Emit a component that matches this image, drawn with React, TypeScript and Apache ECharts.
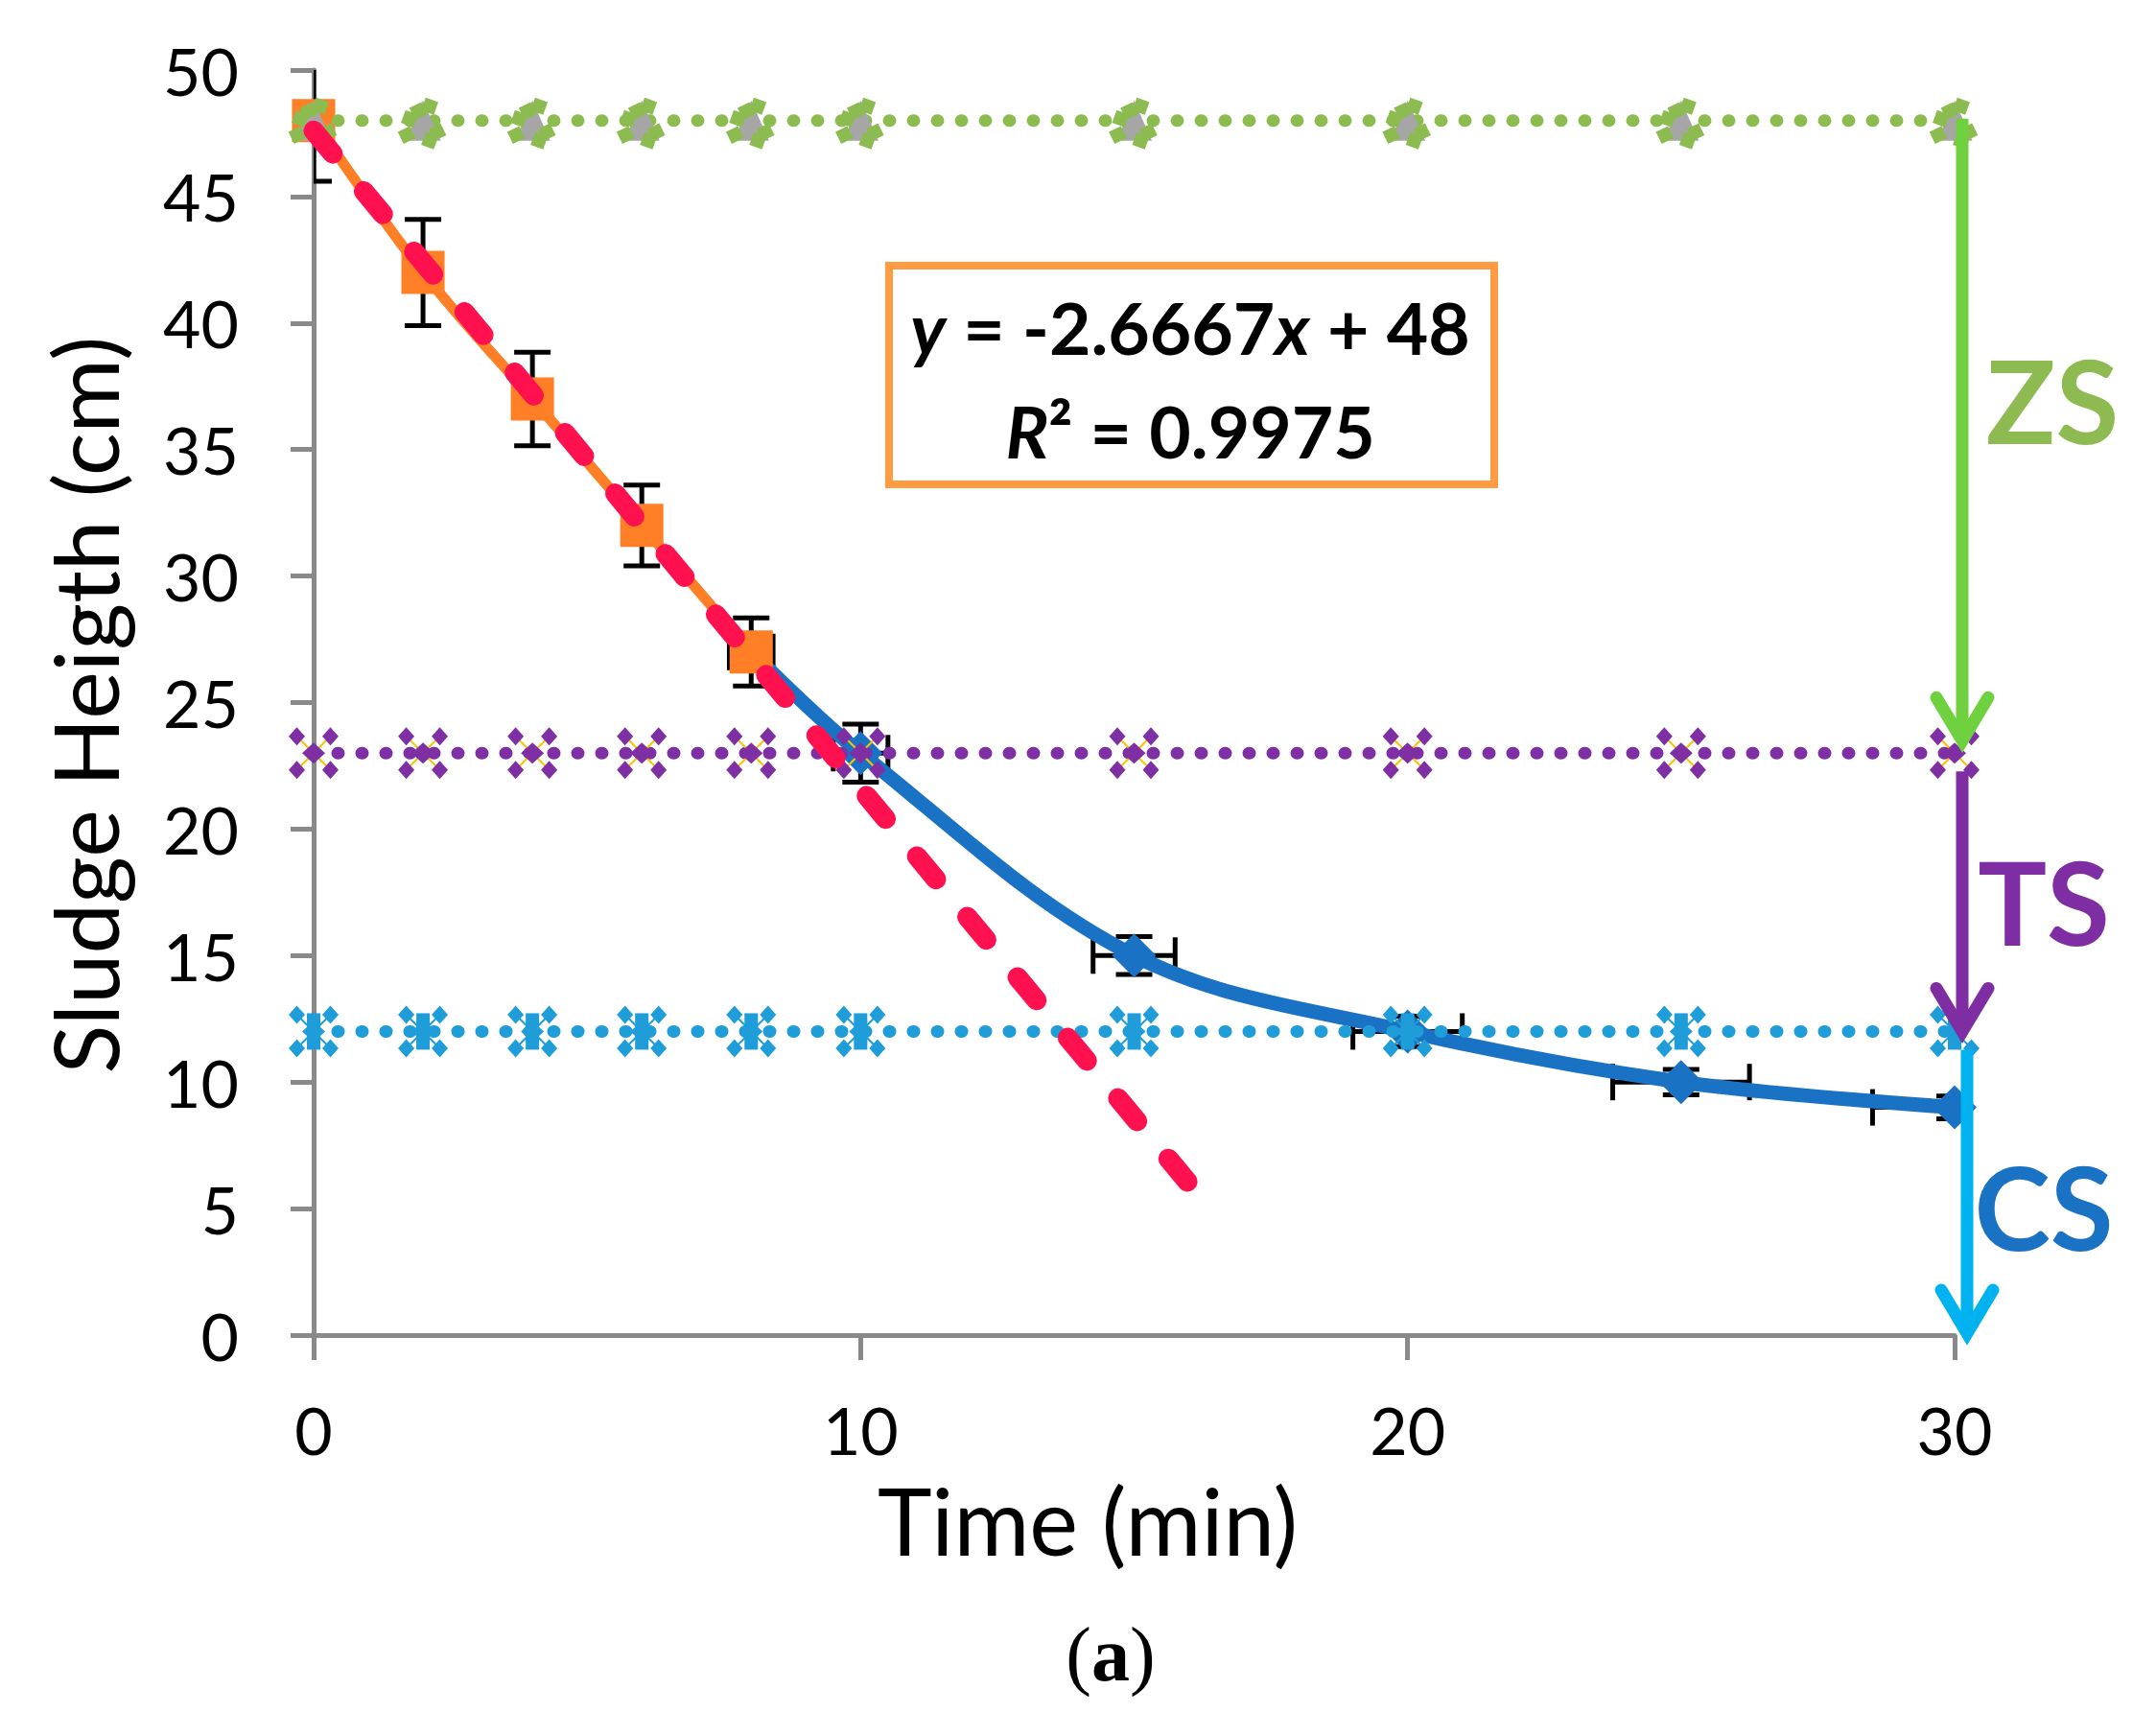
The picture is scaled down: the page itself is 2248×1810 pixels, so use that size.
import React, { useEffect, useRef } from 'react';
import * as echarts from 'echarts';

// ---------------- data ----------------
const timeOrange = [0, 2, 4, 6, 8];
const heightOrange = [48, 42, 37, 32, 27];
const xErrOrange = [0, 0.1, 0.2, 0.3, 0.4];
const yErrOrange = [2.4, 2.1, 1.85, 1.6, 1.35];

const timeBlue = [8, 10, 15, 20, 25, 30];
const heightBlue = [27, 23, 15, 12, 10, 9];
const xErrBlue = [0.4, 0.5, 0.75, 1.0, 1.25, 1.5];
const yErrBlue = [1.35, 1.15, 0.75, 0.6, 0.5, 0.45];

const timeZones = [0, 2, 4, 6, 8, 10, 15, 20, 25, 30];
const zsHeights = [48, 48, 48, 48, 48, 48, 48, 48, 48, 48];
const tsHeights = [23, 23, 23, 23, 23, 23, 23, 23, 23, 23];
const csHeights = [12, 12, 12, 12, 12, 12, 12, 12, 12, 12];

const trendTime = [0, 16];
const trendHeight = [47.6, 6.0];

const arrowTime = [30, 30, 30];
const arrowFrom = [48, 23, 12];
const arrowTo = [23, 12, 0];
const zoneNames = ['ZS', 'TS', 'CS'];

const xMin = 0, xMax = 30, xStep = 10;
const yMin = 0, yMax = 50, yStep = 5;

const equationLine = ['y', ' = -2.6667', 'x', ' + 48'];
const r2Line = ['R', '² = 0.9975'];
const xTitle = 'Time (min)';
const yTitle = 'Sludge Heigth (cm)';
const panelLabel = 'a';

// ---------------- styles ----------------
const FONT = 'Lato, "Open Sans", sans-serif';
const SERIF = '"Liberation Serif", "DejaVu Serif", serif';
const AXIS_GRAY = '#898989';
const ORANGE = '#FF7F27';
const BLUE = '#1A72C5';
const PURPLE = '#7E2FA3';
const CYAN = '#1E9DD9';
const GREEN_DOT = '#8CBC50';
const TRI_GRAY = '#A6A6A6';
const RED = '#FF1150';
const arrowColors = ['#6FD13F', '#7F2DA2', '#00B2EF'];
const zoneTextColors = ['#8DBB52', '#7F2DA2', '#1A72C5'];

function diamond(cx: number, cy: number, hw: number, hh: number, fill: string) {
  return {
    type: 'polygon',
    shape: { points: [[cx, cy - hh], [cx + hw, cy], [cx, cy + hh], [cx - hw, cy]] },
    style: { fill },
  };
}

function crossMarker(color: string, lineColor: string, withRect: boolean) {
  return (params: any, api: any) => {
    const c = api.coord([api.value(0), api.value(1)]);
    const cx = c[0], cy = c[1];
    const o = 17.5;
    const children: any[] = [
      { type: 'line', shape: { x1: cx - o, y1: cy - o, x2: cx + o, y2: cy + o }, style: { stroke: lineColor, lineWidth: 2 } },
      { type: 'line', shape: { x1: cx - o, y1: cy + o, x2: cx + o, y2: cy - o }, style: { stroke: lineColor, lineWidth: 2 } },
    ];
    if (withRect) {
      children.push({ type: 'rect', shape: { x: cx - 7, y: cy - 19, width: 14, height: 38 }, style: { fill: color } });
    }
    children.push(diamond(cx - o, cy - o, 8.5, 9.5, color));
    children.push(diamond(cx + o, cy - o, 8.5, 9.5, color));
    children.push(diamond(cx - o, cy + o, 8.5, 9.5, color));
    children.push(diamond(cx + o, cy + o, 8.5, 9.5, color));
    children.push(diamond(cx, cy, 12, 11, color));
    return { type: 'group', children };
  };
}

function greenMarker(params: any, api: any) {
  const c = api.coord([api.value(0), api.value(1)]);
  const cx = c[0], cy = c[1];
  const bits = [[-5, -10], [7, -15], [-17, 15], [7, 21], [15, 12], [-14, -2]];
  const children: any[] = [
    { type: 'polygon', shape: { points: [[cx, cy - 21], [cx + 18.5, cy + 21], [cx - 18.5, cy + 21]] }, style: { fill: TRI_GRAY } },
  ];
  bits.forEach((b, i) => {
    children.push({
      type: 'rect',
      x: cx + b[0],
      y: cy + b[1],
      rotation: i % 2 === 0 ? 0.45 : -0.35,
      shape: { x: -7, y: -7, width: 14, height: 14 },
      style: { fill: GREEN_DOT },
    });
  });
  return { type: 'group', children };
}

function errorBars(params: any, api: any) {
  const x = api.value(0), y = api.value(1), ex = api.value(2), ey = api.value(3);
  const c = api.coord([x, y]);
  const top = api.coord([x, y + ey])[1];
  const bot = api.coord([x, y - ey])[1];
  const left = api.coord([x - ex, y])[0];
  const right = api.coord([x + ex, y])[0];
  const cap = 19;
  const style = { stroke: '#000', lineWidth: 5 };
  const children: any[] = [
    { type: 'line', shape: { x1: c[0], y1: top, x2: c[0], y2: bot }, style },
    { type: 'line', shape: { x1: c[0] - cap, y1: top, x2: c[0] + cap, y2: top }, style },
    { type: 'line', shape: { x1: c[0] - cap, y1: bot, x2: c[0] + cap, y2: bot }, style },
  ];
  if (ex > 0) {
    children.push({ type: 'line', shape: { x1: left, y1: c[1], x2: right, y2: c[1] }, style });
    children.push({ type: 'line', shape: { x1: left, y1: c[1] - cap, x2: left, y2: c[1] + cap }, style });
    children.push({ type: 'line', shape: { x1: right, y1: c[1] - cap, x2: right, y2: c[1] + cap }, style });
  }
  return { type: 'group', children };
}

const arrowXOff = [8, 8, 13];
const arrowStartOff = [-2, 19, 19];
const arrowEndOff = [-13, 0, -2];

function arrows(params: any, api: any) {
  const i = api.value(3);
  const pFrom = api.coord([api.value(0), api.value(1)]);
  const pTo = api.coord([api.value(0), api.value(2)]);
  const x = pFrom[0] + arrowXOff[i];
  const y1 = pFrom[1] + arrowStartOff[i];
  const y2 = pTo[1] + arrowEndOff[i];
  const color = arrowColors[i];
  return {
    type: 'group',
    children: [
      { type: 'line', shape: { x1: x, y1, x2: x, y2: y2 - 4 }, style: { stroke: color, lineWidth: 13, lineCap: 'butt' } },
      {
        type: 'polyline',
        shape: { points: [[x - 27, y2 - 45], [x, y2], [x + 27, y2 - 45]] },
        style: { stroke: color, lineWidth: 13, lineCap: 'round', lineJoin: 'miter', fill: 'none' },
      },
    ],
  };
}

function pairs(xs: number[], ys: number[]) {
  return xs.map((t, i) => [t, ys[i]]);
}

function buildOption() {
  const errData = [
    ...timeOrange.map((t, i) => [t, heightOrange[i], xErrOrange[i], yErrOrange[i]]),
    ...timeBlue.slice(1).map((t, i) => [t, heightBlue[i + 1], xErrBlue[i + 1], yErrBlue[i + 1]]),
  ];
  const blueData = timeBlue.map((t, i) =>
    i === 0 ? { value: [t, heightBlue[i]], symbol: 'none' } : { value: [t, heightBlue[i]] }
  );
  const dotted = (color: string) => ({ color, width: 13, type: [1, 24], cap: 'round' });
  const zoneLine = (name: string, ys: number[], color: string) => ({
    name,
    type: 'line',
    data: pairs(timeZones, ys),
    showSymbol: false,
    symbol: 'none',
    lineStyle: dotted(color),
    z: 4,
    silent: true,
  });
  const zoneMarkers = (name: string, ys: number[], render: any) => ({
    name,
    type: 'custom',
    data: pairs(timeZones, ys),
    renderItem: render,
    clip: false,
    z: 5,
    silent: true,
  });

  const zoneTextPos = [[2140, 417], [2131, 940], [2131, 1258]];
  const eqRich = {
    i: { fontSize: 75, fontFamily: FONT, fontWeight: 'bold', fontStyle: 'italic', fill: '#000' },
    b: { fontSize: 75, fontFamily: FONT, fontWeight: 'bold', fill: '#000' },
  };

  return {
    animation: false,
    backgroundColor: '#ffffff',
    grid: { left: 327, top: 73, width: 1711, height: 1319, containLabel: false },
    xAxis: {
      type: 'value',
      min: xMin,
      max: xMax,
      interval: xStep,
      axisLine: { show: true, onZero: true, lineStyle: { color: AXIS_GRAY, width: 5 } },
      axisTick: { show: true, inside: false, length: 26, lineStyle: { color: AXIS_GRAY, width: 5 } },
      axisLabel: { fontSize: 68, fontFamily: FONT, color: '#000', margin: 64 },
      splitLine: { show: false },
    },
    yAxis: {
      type: 'value',
      min: yMin,
      max: yMax,
      interval: yStep,
      axisLine: { show: true, lineStyle: { color: AXIS_GRAY, width: 5 } },
      axisTick: { show: true, inside: false, length: 24, lineStyle: { color: AXIS_GRAY, width: 5 } },
      axisLabel: { fontSize: 68, fontFamily: FONT, color: '#000', margin: 78 },
      splitLine: { show: false },
    },
    series: [
      { name: 'err', type: 'custom', data: errData, renderItem: errorBars, clip: true, z: 1, silent: true },
      {
        name: 'blue',
        type: 'line',
        data: blueData,
        smooth: 0.35,
        symbol: 'diamond',
        symbolSize: [46, 46],
        showSymbol: true,
        itemStyle: { color: BLUE },
        lineStyle: { color: BLUE, width: 15 },
        z: 2,
        silent: true,
      },
      {
        name: 'orange',
        type: 'line',
        data: pairs(timeOrange, heightOrange),
        smooth: 0.35,
        symbol: 'rect',
        symbolSize: 45,
        itemStyle: { color: ORANGE },
        lineStyle: { color: ORANGE, width: 11 },
        z: 3,
        silent: true,
      },
      zoneLine('zsLine', zsHeights, GREEN_DOT),
      zoneLine('tsLine', tsHeights, PURPLE),
      zoneLine('csLine', csHeights, CYAN),
      zoneMarkers('zsMk', zsHeights, greenMarker),
      zoneMarkers('tsMk', tsHeights, crossMarker(PURPLE, '#FFC000', false)),
      zoneMarkers('csMk', csHeights, crossMarker(CYAN, CYAN, true)),
      {
        name: 'trend',
        type: 'line',
        data: pairs(trendTime, trendHeight),
        symbol: 'none',
        lineStyle: { color: RED, width: 21, type: [31, 51], cap: 'round' },
        z: 6,
        silent: true,
      },
      {
        name: 'arrows',
        type: 'custom',
        data: arrowTime.map((t, i) => [t, arrowFrom[i], arrowTo[i], i]),
        renderItem: arrows,
        clip: false,
        z: 7,
        silent: true,
      },
    ],
    graphic: [
      {
        type: 'text',
        x: 87,
        y: 735,
        rotation: Math.PI / 2,
        style: { text: yTitle, fontSize: 94, fontFamily: FONT, fill: '#000', align: 'center', verticalAlign: 'middle' },
      },
      {
        type: 'text',
        x: 1134,
        y: 1584,
        style: { text: xTitle, fontSize: 96, fontFamily: FONT, fill: '#000', align: 'center', verticalAlign: 'middle' },
      },
      {
        type: 'text',
        x: 1158,
        y: 1725,
        style: {
          text: '{p|(}{b|' + panelLabel + '}{p|)}',
          align: 'center',
          verticalAlign: 'middle',
          rich: {
            p: { fontSize: 80, fontFamily: SERIF, fill: '#000' },
            b: { fontSize: 80, fontFamily: SERIF, fontWeight: 'bold', fill: '#000' },
          },
        },
      },
      {
        type: 'rect',
        shape: { x: 927, y: 277, width: 631, height: 228 },
        style: { fill: '#fff', stroke: '#FF9B40', lineWidth: 8 },
        z: 10,
      },
      {
        type: 'text',
        x: 1241,
        y: 341,
        z: 11,
        style: {
          text: '{i|' + equationLine[0] + '}{b|' + equationLine[1] + '}{i|' + equationLine[2] + '}{b|' + equationLine[3] + '}',
          align: 'center',
          verticalAlign: 'middle',
          rich: eqRich,
        },
      },
      {
        type: 'text',
        x: 1241,
        y: 449,
        z: 11,
        style: {
          text: '{i|' + r2Line[0] + '}{b|' + r2Line[1] + '}',
          align: 'center',
          verticalAlign: 'middle',
          rich: eqRich,
        },
      },
      ...zoneNames.map((n, i) => ({
        type: 'text',
        x: zoneTextPos[i][0],
        y: zoneTextPos[i][1],
        z: 11,
        style: {
          text: n,
          fontSize: 120,
          fontFamily: FONT,
          fontWeight: 'bold',
          fill: zoneTextColors[i],
          align: 'center',
          verticalAlign: 'middle',
        },
      })),
    ],
  };
}

export default function App() {
  const ref = useRef<HTMLDivElement>(null);
  useEffect(() => {
    document.body.style.margin = '0';
    document.body.style.overflow = 'hidden';
    const chart = echarts.init(ref.current as HTMLDivElement, undefined, { renderer: 'svg', width: 2248, height: 1810 });
    chart.setOption(buildOption() as any);
    return () => {
      chart.dispose();
    };
  }, []);
  return <div ref={ref} style={{ width: 2248, height: 1810, background: '#fff' }} />;
}
